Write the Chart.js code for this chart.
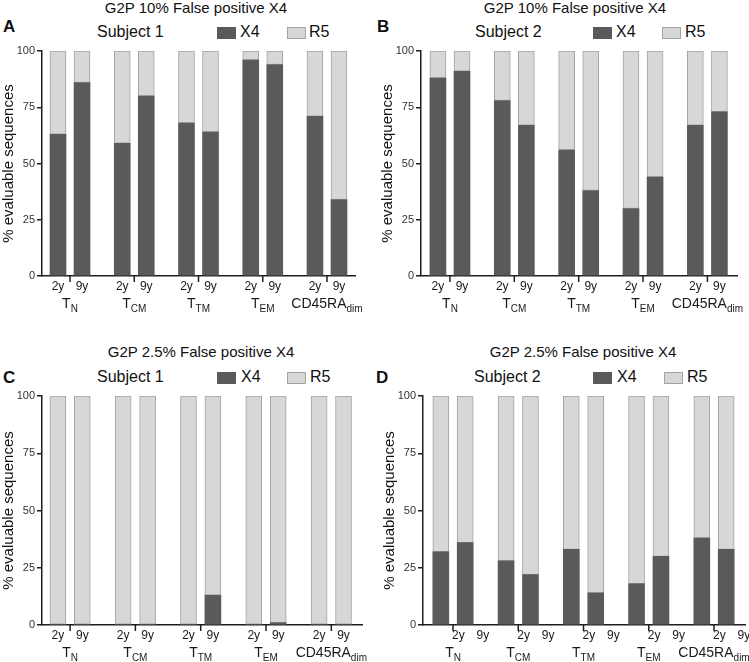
<!DOCTYPE html>
<html>
<head>
<meta charset="utf-8">
<script src="https://cdn.jsdelivr.net/npm/chart.js@4.4.1/dist/chart.umd.min.js"></script>
<style>
  body { margin: 0; background: #fff; font-family: "Liberation Sans", Arial, sans-serif; }
  #page { position: relative; width: 749px; height: 662px; overflow: hidden; }
  #page canvas { position: absolute; }
  .txt { position: absolute; white-space: nowrap; color: #111; line-height: 1; }
  .sw { position: absolute; width: 19px; height: 12px; box-sizing: border-box; }
</style>
</head>
<body>
<div id="page"></div>
<script>
// categories
const years = ['2y', '9y'];
const groupMain = ['T', 'T', 'T', 'T', 'CD45RA'];
const groupSub = ['N', 'CM', 'TM', 'EM', 'dim'];
const yTicks = [0, 25, 50, 75, 100];

// % of evaluable sequences, bars in order TN 2y, TN 9y, TCM 2y, TCM 9y, ...
const subj1Fp10X4 = [63, 86, 59, 80, 68, 64, 96, 94, 71, 34];
const subj1Fp10R5 = [37, 14, 41, 20, 32, 36, 4, 6, 29, 66];
const subj2Fp10X4 = [88, 91, 78, 67, 56, 38, 30, 44, 67, 73];
const subj2Fp10R5 = [12, 9, 22, 33, 44, 62, 70, 56, 33, 27];
const subj1Fp25X4 = [0, 0, 0, 0, 0, 13, 0, 1, 0, 0];
const subj1Fp25R5 = [100, 100, 100, 100, 100, 87, 100, 99, 100, 100];
const subj2Fp25X4 = [32, 36, 28, 22, 33, 14, 18, 30, 38, 33];
const subj2Fp25R5 = [68, 64, 72, 78, 67, 86, 82, 70, 62, 67];

const DARK = '#5a5a5a';
const LIGHT = '#d7d7d7';
const EDGE = '#a3a3a3';
const AXIS = '#1e1e1e';
const PAIR_OFF = 0.187; // half distance between 2y and 9y bars, in group units

const panels = [
  { letter: 'A', title: 'G2P 10% False positive X4', subject: 'Subject 1', x4: subj1Fp10X4, r5: subj1Fp10R5,
    box: { x: 0, y: 40, w: 375, h: 280 }, pad: { left: 0, right: 20, top: 11 }, xH: 44, xMin: -0.436, xMax: 4.436,
    head: { title: 196, titleY: 13, letterX: 3, letterY: 32, subX: 97, rowY: 38, sw1: 217, lab1: 240, sw2: 287, lab2: 309 } },
  { letter: 'B', title: 'G2P 10% False positive X4', subject: 'Subject 2', x4: subj2Fp10X4, r5: subj2Fp10R5,
    box: { x: 375, y: 40, w: 374, h: 280 }, pad: { left: 4, right: 12, top: 11 }, xH: 44, xMin: -0.45, xMax: 4.46,
    head: { title: 575, titleY: 13, letterX: 377, letterY: 32, subX: 475, rowY: 38, sw1: 593, lab1: 616, sw2: 662, lab2: 685 } },
  { letter: 'C', title: 'G2P 2.5% False positive X4', subject: 'Subject 1', x4: subj1Fp25X4, r5: subj1Fp25R5,
    box: { x: 0, y: 385, w: 375, h: 277 }, pad: { left: 0, right: 13, top: 11 }, xH: 37, xMin: -0.43, xMax: 4.47,
    head: { title: 201, titleY: 357, letterX: 3, letterY: 383, subX: 97, rowY: 383, sw1: 217, lab1: 241, sw2: 287, lab2: 310 } },
  { letter: 'D', title: 'G2P 2.5% False positive X4', subject: 'Subject 2', x4: subj2Fp25X4, r5: subj2Fp25R5,
    box: { x: 375, y: 385, w: 374, h: 277 }, pad: { left: 6, right: 4, top: 11 }, xH: 37, xMin: -0.46, xMax: 4.475,
    labelShift: 0.27,
    head: { title: 583, titleY: 357, letterX: 376, letterY: 383, subX: 474, rowY: 383, sw1: 593, lab1: 617, sw2: 664, lab2: 687 } }
];

const page = document.getElementById('page');

// place a text so that its baseline sits at y
function addText(str, x, y, size, opts = {}) {
  const el = document.createElement('div');
  el.className = 'txt';
  el.textContent = str;
  el.style.fontSize = size + 'px';
  el.style.left = x + 'px';
  el.style.top = (y - 0.85 * size) + 'px';
  if (opts.bold) el.style.fontWeight = 'bold';
  if (opts.center) el.style.transform = 'translateX(-50%)';
  page.appendChild(el);
}

function addSwatch(x, y, fill, border) {
  const el = document.createElement('div');
  el.className = 'sw';
  el.style.left = x + 'px';
  el.style.top = y + 'px';
  el.style.background = fill;
  if (border) el.style.border = '1px solid ' + border;
  page.appendChild(el);
}

function barX(i) {
  const g = Math.floor(i / 2);
  return g + (i % 2 ? PAIR_OFF : -PAIR_OFF);
}

// draws the 2y/9y labels, tick marks and T-subset names under the axis
const xLabels = {
  id: 'xLabels',
  afterDraw(chart, args, opts) {
    const ctx = chart.ctx;
    const xs = chart.scales.x;
    const y0 = chart.chartArea.bottom;
    const shift = opts.shift || 0;
    ctx.save();
    ctx.strokeStyle = AXIS;
    ctx.fillStyle = '#1a1a1a';
    ctx.lineWidth = 1.5;
    ctx.textBaseline = 'alphabetic';
    groupMain.forEach((main, g) => {
      const px = xs.getPixelForValue(g);
      ctx.beginPath();
      ctx.moveTo(px, y0);
      ctx.lineTo(px, y0 + 6);
      ctx.stroke();

      ctx.font = '12px "Liberation Sans", Arial, sans-serif';
      ctx.textAlign = 'center';
      years.forEach((yr, k) => {
        const v = g + (k ? PAIR_OFF : -PAIR_OFF) + shift;
        ctx.fillText(yr, xs.getPixelForValue(v), y0 + 13.5);
      });

      ctx.textAlign = 'left';
      ctx.font = '14px "Liberation Sans", Arial, sans-serif';
      const wMain = ctx.measureText(main).width;
      ctx.font = '10px "Liberation Sans", Arial, sans-serif';
      const wSub = ctx.measureText(groupSub[g]).width;
      const start = px - (wMain + wSub) / 2;
      ctx.font = '14px "Liberation Sans", Arial, sans-serif';
      ctx.fillText(main, start, y0 + 32);
      ctx.font = '10px "Liberation Sans", Arial, sans-serif';
      ctx.fillText(groupSub[g], start + wMain, y0 + 35.5);
    });
    ctx.restore();
  }
};

panels.forEach(p => {
  const h = p.head;
  addText(p.title, h.title, h.titleY, 15, { center: true });
  addText(p.letter, h.letterX, h.letterY, 17, { bold: true });
  addText(p.subject, h.subX, h.rowY, 16);
  addSwatch(h.sw1, h.rowY - 11, DARK);
  addText('X4', h.lab1, h.rowY, 16);
  addSwatch(h.sw2, h.rowY - 11, LIGHT, EDGE);
  addText('R5', h.lab2, h.rowY, 16);

  const cv = document.createElement('canvas');
  cv.width = p.box.w;
  cv.height = p.box.h;
  cv.style.left = p.box.x + 'px';
  cv.style.top = p.box.y + 'px';
  page.appendChild(cv);

  new Chart(cv, {
    type: 'bar',
    data: {
      datasets: [
        {
          label: 'X4',
          data: p.x4.map((v, i) => ({ x: barX(i), y: v })),
          backgroundColor: DARK,
          borderWidth: 0,
          barThickness: 16
        },
        {
          label: 'R5',
          data: p.r5.map((v, i) => ({ x: barX(i), y: v })),
          backgroundColor: LIGHT,
          borderColor: EDGE,
          borderWidth: 1,
          borderSkipped: false,
          barThickness: 16
        }
      ]
    },
    options: {
      responsive: false,
      animation: false,
      devicePixelRatio: 1,
      layout: { padding: { left: p.pad.left, right: p.pad.right, top: p.pad.top, bottom: 0 } },
      plugins: {
        legend: { display: false },
        tooltip: { enabled: false },
        xLabels: { shift: p.labelShift || 0 }
      },
      scales: {
        x: {
          type: 'linear',
          stacked: true,
          min: p.xMin,
          max: p.xMax,
          offset: false,
          grid: { display: false },
          ticks: { display: false },
          border: { display: true, color: AXIS, width: 1.5 },
          afterFit: s => { s.height = p.xH; }
        },
        y: {
          stacked: true,
          min: 0,
          max: 100,
          afterBuildTicks: s => { s.ticks = yTicks.map(v => ({ value: v })); },
          grid: { display: true, drawOnChartArea: false, drawTicks: true, tickLength: 5, color: AXIS, lineWidth: 1.5 },
          border: { display: true, color: AXIS, width: 1.5 },
          ticks: { font: { size: 11, family: '"Liberation Sans", Arial, sans-serif' }, color: '#333', padding: 2 },
          title: {
            display: true,
            text: '% evaluable sequences',
            font: { size: 15, family: '"Liberation Sans", Arial, sans-serif' },
            color: '#111',
            padding: 0
          },
          afterFit: s => { s.width = 42; }
        }
      }
    },
    plugins: [xLabels]
  });
});
</script>
</body>
</html>
